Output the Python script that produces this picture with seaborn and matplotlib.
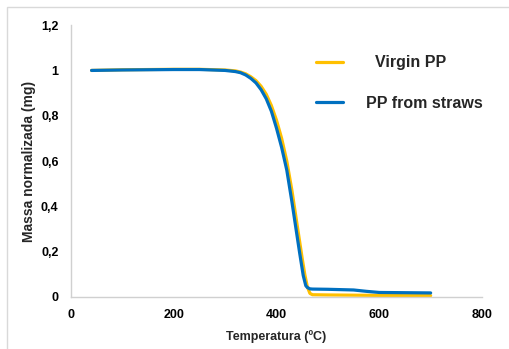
import matplotlib
matplotlib.use("Agg")
import matplotlib.pyplot as plt
import seaborn as sns
import pandas as pd
from matplotlib.patches import Rectangle

# ---- data ----
series_names = ["  Virgin PP", "PP from straws"]

temp_virgin = [40, 100, 150, 200, 250, 300, 320, 330, 340, 350, 360, 370, 380, 390,
               400, 410, 420, 430, 440, 445, 450, 455, 460, 465, 470, 500, 550, 600, 650, 700]
mass_virgin = [1.0, 1.003, 1.004, 1.005, 1.005, 1.002, 0.998, 0.993, 0.985, 0.972, 0.955,
               0.93, 0.895, 0.845, 0.78, 0.70, 0.60, 0.47, 0.32, 0.245, 0.17, 0.10, 0.045,
               0.016, 0.010, 0.009, 0.008, 0.007, 0.006, 0.006]

temp_straws = [40, 100, 150, 200, 250, 300, 320, 330, 340, 350, 360, 370, 380, 390,
               400, 410, 420, 430, 440, 445, 452, 457, 460, 465, 470, 500, 550, 575, 600, 650, 700]
mass_straws = [1.0, 1.002, 1.003, 1.004, 1.004, 1.0, 0.995, 0.99, 0.98, 0.965, 0.945,
               0.915, 0.875, 0.82, 0.745, 0.66, 0.56, 0.42, 0.27, 0.195, 0.095, 0.05, 0.042,
               0.036, 0.035, 0.034, 0.031, 0.025, 0.02, 0.019, 0.018]

x_ticks = [0, 200, 400, 600, 800]
y_ticks = [0, 0.2, 0.4, 0.6, 0.8, 1.0, 1.2]
y_tick_labels = ["0", "0,2", "0,4", "0,6", "0,8", "1", "1,2"]
colors = ["#FFC000", "#0070C0"]

df = pd.concat([
    pd.DataFrame({"T": temp_virgin, "m": mass_virgin, "s": series_names[0]}),
    pd.DataFrame({"T": temp_straws, "m": mass_straws, "s": series_names[1]}),
], ignore_index=True)

sns.set_style("white")
plt.rcParams["font.family"] = ["Liberation Sans", "DejaVu Sans"]
plt.rcParams["font.weight"] = "bold"

fig = plt.figure(figsize=(5.09, 3.49), dpi=100)
ax = fig.add_axes([0.1395, 0.149, 0.8075, 0.779])

sns.lineplot(data=df, x="T", y="m", hue="s", palette=colors, sort=False,
             estimator=None, linewidth=2.3, ax=ax)

ax.set_xlim(0, 800)
ax.set_ylim(0, 1.2)
ax.set_xticks(x_ticks)
ax.set_xticklabels([str(v) for v in x_ticks])
ax.set_yticks(y_ticks)
ax.set_yticklabels(y_tick_labels)
ax.tick_params(axis="both", length=0, labelsize=9, colors="black")
ax.tick_params(axis="x", pad=9)
ax.tick_params(axis="y", pad=9)
for lab in ax.get_xticklabels() + ax.get_yticklabels():
    lab.set_fontweight("bold")

ax.set_xlabel("Temperatura (ºC)", fontsize=9, fontweight="bold", labelpad=6)
ax.set_ylabel("Massa normalizada (mg)", fontsize=10, fontweight="bold", labelpad=3.5)

for side in ["top", "right"]:
    ax.spines[side].set_visible(False)
for side in ["left", "bottom"]:
    ax.spines[side].set_color("#d0d0d0")
    ax.spines[side].set_linewidth(1.0)

leg = ax.legend(loc="upper left", bbox_to_anchor=(0.620, 0.842),
                bbox_transform=fig.transFigure, frameon=False, borderpad=0,
                borderaxespad=0, handlelength=1.7, handletextpad=1.45,
                labelspacing=1.61, prop={"size": 11.5, "weight": "bold"})
for line in leg.get_lines():
    line.set_linewidth(2.3)

fig.patches.append(Rectangle((7 / 509, -0.2), 1.2, (349 - 7) / 349 + 0.2,
                             transform=fig.transFigure, fill=False,
                             edgecolor="#d9d9d9", linewidth=1.0))

fig.savefig("out.png", dpi=100)
